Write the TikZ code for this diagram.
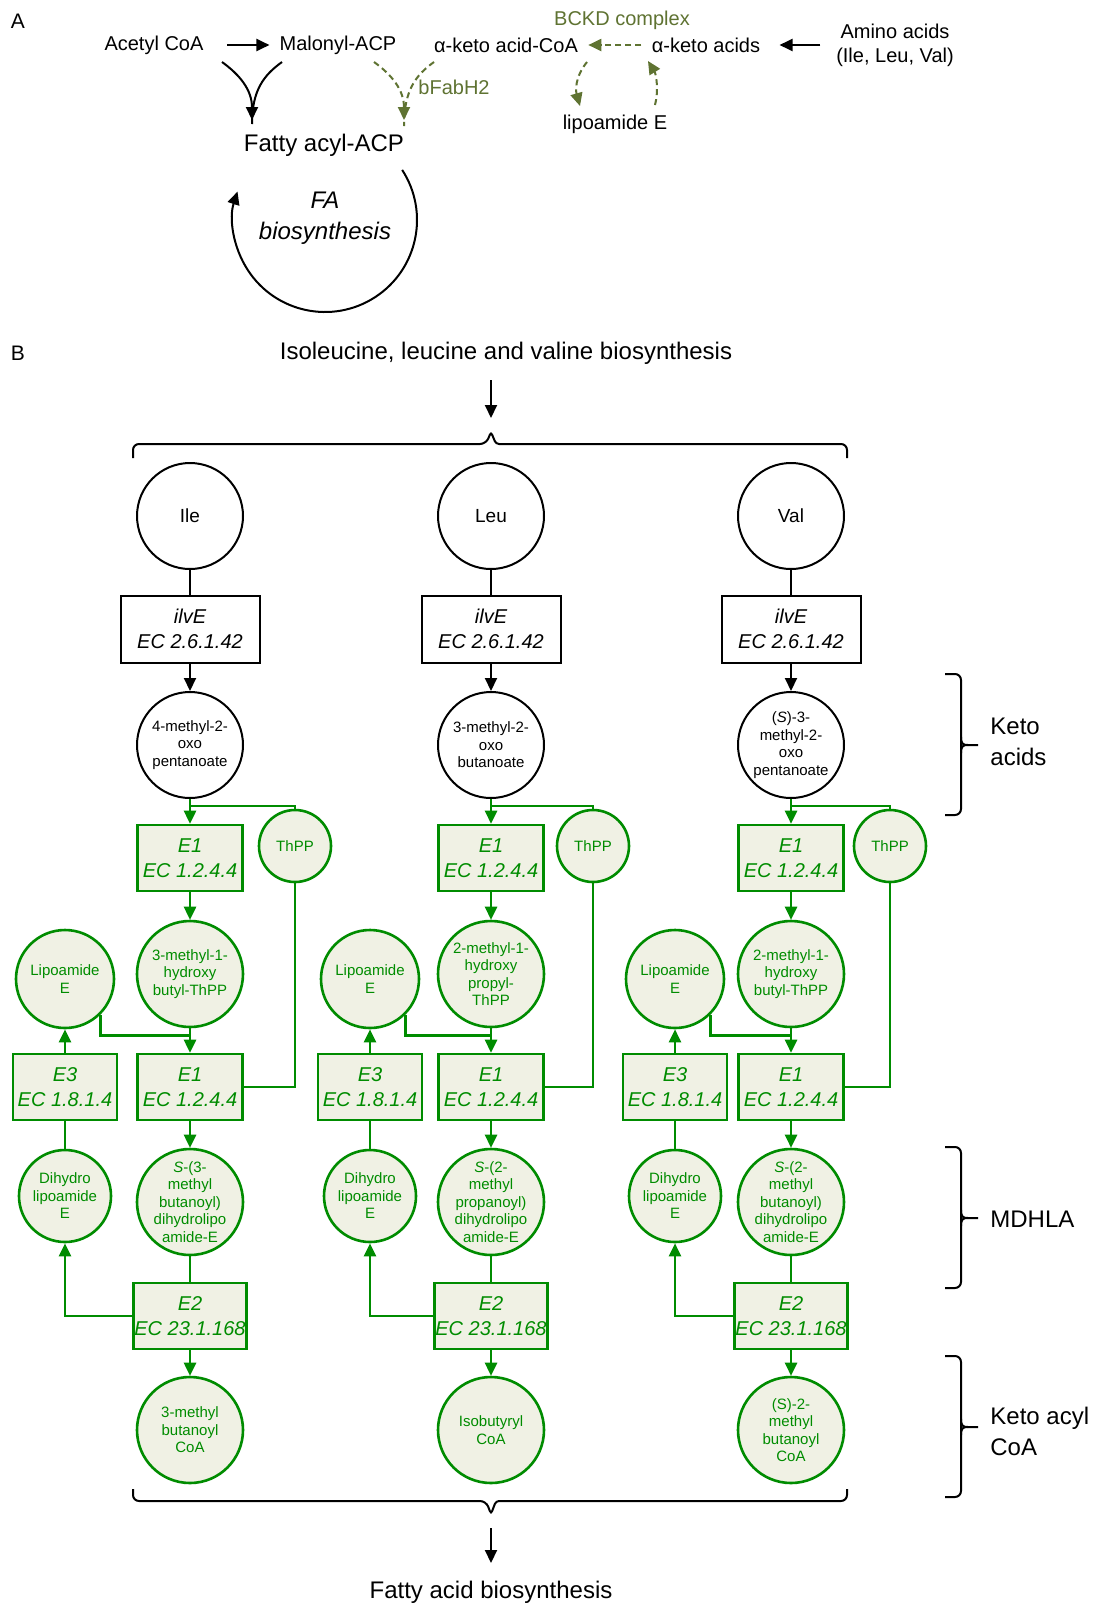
\documentclass[tikz,border=0pt]{standalone}
\usepackage{fontspec}
\setmainfont{Liberation Sans}
\usetikzlibrary{arrows.meta}
\definecolor{enzgreen}{RGB}{0,140,0}
\definecolor{enzfill}{RGB}{240,241,228}
\definecolor{bckdolive}{RGB}{95,115,50}

\begin{document}
\begin{tikzpicture}[x=0.5pt,y=-0.5pt,
   every node/.style={inner sep=1pt},
   txt/.style={font=\fontsize{10}{12}\selectfont,align=center},
   bigtxt/.style={font=\fontsize{12}{15.5}\selectfont,align=center},
   tip/.style={-{Triangle[length=6.5pt,width=6pt]}},
   barr/.style={tip,line width=1pt},
   odash/.style={tip,color=bckdolive,line width=1pt,dash pattern=on 3pt off 2pt},
   aacirc/.style={circle,draw,line width=1pt,minimum size=53pt,inner sep=0pt,font=\fontsize{9.5}{11}\selectfont},
   ketocirc/.style={circle,draw,line width=1pt,minimum size=53pt,inner sep=-5pt,align=center,font=\fontsize{7.5}{8.75}\selectfont},
   ilvbox/.style={draw,line width=1pt,minimum width=69.5pt,minimum height=33.5pt,align=center,font=\itshape\fontsize{10}{12.3}\selectfont},
   enzbox/.style={draw=enzgreen,fill=enzfill,text=enzgreen,line width=1.3pt,minimum width=52.5pt,minimum height=33pt,inner sep=0pt,align=center,font=\itshape\fontsize{10}{12.3}\selectfont},
   metcirc/.style={circle,draw=enzgreen,fill=enzfill,text=enzgreen,line width=1.3pt,minimum size=#1,inner sep=-5pt,align=center,font=\fontsize{7.5}{8.75}\selectfont},
   metcirc/.default=53pt,
   gline/.style={draw=enzgreen,line width=1.3pt},
   garr/.style={gline,tip},
   bracket/.style={line width=1pt,rounded corners=3pt}]

\useasboundingbox (0,0) rectangle (1098,1607);
\fill[white] (0,0) rectangle (1098,1607);

% panel A
\node[txt,font=\fontsize{10.5}{12}\selectfont] (labA) at (18,21) {A};
\node[txt] (acetyl) at (154,45) {Acetyl CoA};
\node[txt] (malonyl) at (338,45) {Malonyl-ACP};
\node[txt] (kacoa) at (506,45) {α-keto acid-CoA};
\node[txt,text=bckdolive] (bckd) at (622,20) {BCKD complex};
\node[txt] (kacid) at (706,45) {α-keto acids};
\node[txt] (amino) at (895,45) {Amino acids\\(Ile, Leu, Val)};
\node[txt] (lipo) at (615,124) {lipoamide E};
\node[txt,text=bckdolive] (bfab) at (454,87) {bFabH2};
\node[bigtxt] (fatty) at (324,145) {Fatty acyl-ACP};
\node[bigtxt,font=\itshape\fontsize{12}{15.5}\selectfont] (fabio) at (325,218) {FA\\biosynthesis};

\draw[barr,shorten <=10.75pt,shorten >=3.9pt] (acetyl) -- (malonyl);
\draw[barr,shorten <=6.75pt,shorten >=8.5pt] (amino.west) -- (amino.west -| kacid.east);
\draw[odash,shorten <=4pt,shorten >=4pt] (kacid) -- (kacoa);

\coordinate (condA) at (222,62);
\coordinate (condB) at (282,62);
\coordinate (condT) at (252,120);
\draw[barr] (condA) .. controls (240,75) and (252,90) .. (condT);
\draw[line width=1pt] (condB) .. controls (264,75) and (252,90) .. ([yshift=-2pt]condT);

\coordinate (fabA) at (374,62);
\coordinate (fabB) at (434,62);
\coordinate (fabT) at (404,120);
\draw[odash] (fabA) .. controls (392,75) and (404,90) .. (fabT);
\draw[odash,-] (fabB) .. controls (416,75) and (404,90) .. ([yshift=-3pt]fabT);

\coordinate (lipA) at (587,62);
\coordinate (lipB) at (580,106);
\coordinate (lipC) at (655,105);
\coordinate (lipD) at (648,61);
\draw[odash] (lipA) .. controls (574,78) and (576,92) .. (lipB);
\draw[odash] (lipC) .. controls (659,90) and (656,74) .. (lipD);

\coordinate (facyc) at (325,220);
\draw[barr] (facyc) ++(-33:92) arc[start angle=-33,end angle=198,radius=92];

% panel B
\node[txt,font=\fontsize{10.5}{12}\selectfont] (labB) at (18,353) {B};
\node[bigtxt] (ilvtitle) at (506,353) {Isoleucine, leucine and valine biosynthesis};
\coordinate (inA) at (491,380);
\coordinate (inB) at (491,418);
\draw[barr] (inA) -- (inB);
\draw[bracket] (133,458) -- (133,444) -- (486,444) [rounded corners=1.5pt] -- (491,432) -- (496,444) [rounded corners=3pt] -- (847,444) -- (847,458);

\foreach \i/\cx/\lx/\tx/\aa/\ka/\hy/\sa/\co in {
   a/190/65/295/Ile/{4-methyl-2-\\oxo\\pentanoate}/{3-methyl-1-\\hydroxy\\butyl-ThPP}/{\textit{S}-(3-\\methyl\\butanoyl)\\dihydrolipo\\amide-E}/{3-methyl\\butanoyl\\CoA},
   b/491/370/593/Leu/{3-methyl-2-\\oxo\\butanoate}/{2-methyl-1-\\hydroxy\\propyl-\\ThPP}/{\textit{S}-(2-\\methyl\\propanoyl)\\dihydrolipo\\amide-E}/{Isobutyryl\\CoA},
   c/791/675/890/Val/{(\textit{S})-3-\\methyl-2-\\oxo\\pentanoate}/{2-methyl-1-\\hydroxy\\butyl-ThPP}/{\textit{S}-(2-\\methyl\\butanoyl)\\dihydrolipo\\amide-E}/{(S)-2-\\methyl\\butanoyl\\CoA}}
{
 \node[aacirc] (aa\i) at (\cx,516) {\aa};
 \node[ilvbox] (ilv\i) at (\cx,629) {ilvE\\EC 2.6.1.42};
 \node[ketocirc] (ka\i) at (\cx,745) {\ka};
 \node[enzbox] (ea\i) at (\cx,858) {E1\\EC 1.2.4.4};
 \node[metcirc=36pt] (th\i) at (\tx,846) {ThPP};
 \node[metcirc] (hy\i) at (\cx,974) {\hy};
 \node[metcirc=49pt] (lp\i) at (\lx,979) {Lipoamide\\E};
 \node[enzbox] (eb\i) at (\cx,1087) {E1\\EC 1.2.4.4};
 \node[enzbox,minimum width=52pt] (ec\i) at (\lx,1087) {E3\\EC 1.8.1.4};
 \node[metcirc=46pt] (dh\i) at (\lx,1196) {Dihydro\\lipoamide\\E};
 \node[metcirc] (sa\i) at (\cx,1202) {\sa};
 \node[enzbox,minimum width=56.5pt] (ed\i) at (\cx,1316) {E2\\EC 23.1.168};
 \node[metcirc] (co\i) at (\cx,1430) {\co};

 \draw[line width=1pt] (aa\i) -- (ilv\i);
 \draw[barr] (ilv\i) -- (ka\i);
 \draw[garr] (ka\i) -- (ea\i);
 \draw[gline] ([yshift=-3.5pt]ka\i.south) -| (th\i.north);
 \draw[garr] (ea\i) -- (hy\i);
 \draw[gline] (lp\i.-45) |- ([yshift=-3.5pt]hy\i.south);
 \draw[garr] (hy\i) -- (eb\i);
 \draw[gline] (th\i.south) |- (eb\i.east);
 \draw[garr] (ec\i) -- (lp\i);
 \draw[gline] (ec\i) -- (dh\i);
 \draw[garr] (eb\i) -- (sa\i);
 \draw[gline] (sa\i) -- (ed\i);
 \draw[garr] (ed\i.west) -| (dh\i.south);
 \draw[garr] (ed\i) -- (co\i);
}

\draw[bracket] (133,1489) -- (133,1501) -- (486,1501) [rounded corners=1.5pt] -- (491,1514) -- (496,1501) [rounded corners=3pt] -- (847,1501) -- (847,1489);
\coordinate (outA) at (491,1528);
\coordinate (outB) at (491,1563);
\draw[barr] (outA) -- (outB);
\node[bigtxt] (fatitle) at (491,1592) {Fatty acid biosynthesis};

% right side brackets
\foreach \top/\mid/\bot in {674/745/815,1147/1218/1288,1356/1427/1497}
 {\draw[bracket] (945,\top) -- (961,\top) -- (961,\bot) -- (945,\bot);
  \draw[line width=1pt] (961,\mid-8) .. controls (961,\mid-1) and (963,\mid) .. (968,\mid) -- (978,\mid);
  \draw[line width=1pt] (961,\mid+8) .. controls (961,\mid+1) and (963,\mid) .. (968,\mid);}
\node[bigtxt,align=left,anchor=west] (ketolab) at (988,742) {Keto\\acids};
\node[bigtxt,align=left,anchor=west] (mdhla) at (988,1219) {MDHLA};
\node[bigtxt,align=left,anchor=west] (acyllab) at (988,1431) {Keto acyl\\CoA};
\end{tikzpicture}
\end{document}
